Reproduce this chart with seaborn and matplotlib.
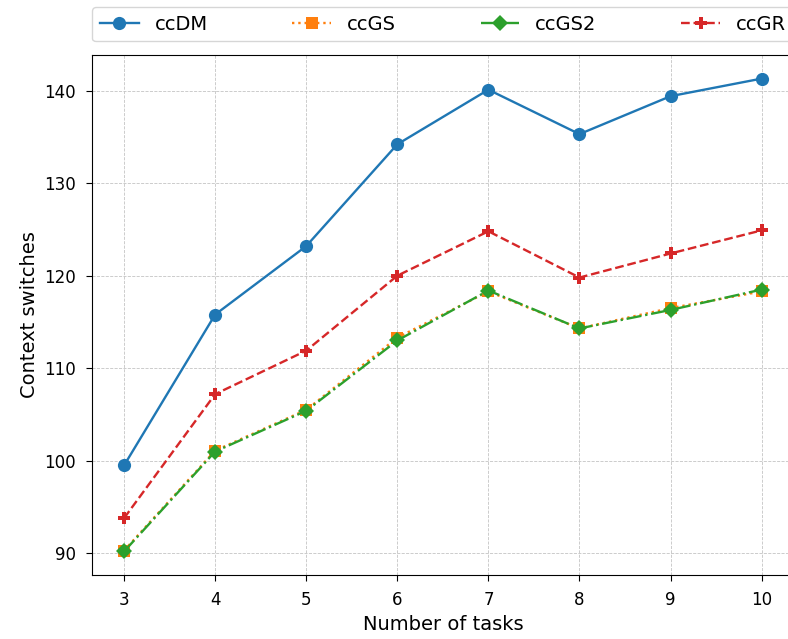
import numpy as np
import pandas as pd
import seaborn as sns
import matplotlib
matplotlib.use('Agg')
import matplotlib.pyplot as plt

tasks = [3, 4, 5, 6, 7, 8, 9, 10]
ccDM = [99.5, 115.8, 123.2, 134.2, 140.1, 135.3, 139.4, 141.3]
ccGS = [90.3, 101.1, 105.5, 113.3, 118.3, 114.3, 116.5, 118.3]
ccGS2 = [90.2, 101.0, 105.4, 113.0, 118.4, 114.3, 116.3, 118.5]
ccGR = [93.8, 107.2, 111.9, 120.0, 124.8, 119.8, 122.4, 124.9]

series = [('ccDM', ccDM, 'tab:blue', '-', 'o', 9.5),
          ('ccGS', ccGS, 'tab:orange', ':', 's', 8.5),
          ('ccGS2', ccGS2, 'tab:green', '-.', 'D', 8.5),
          ('ccGR', ccGR, 'tab:red', '--', 'P', 9)]

f, ax = plt.subplots(figsize=(7.88, 6.39), dpi=100)
# axes runs slightly past the right edge of the figure, as in the reference
ax.set_position([0.117, 0.100, 0.890, 0.814])

for name, vals, col, ls, mk, ms in series:
    df = pd.DataFrame({'tasks': tasks, 'val': vals})
    sns.lineplot(data=df, x='tasks', y='val', ax=ax, color=col, linestyle=ls,
                 marker=mk, markersize=ms, markeredgewidth=0, linewidth=1.7, label=name)

ax.grid(True, linestyle='--', linewidth=0.6, color='#c4c4c4')
ax.set_xticks(tasks)
ax.set_yticks([90, 100, 110, 120, 130, 140])
ax.tick_params(labelsize=12, length=4.5, pad=7)
ax.set_xlabel('Number of tasks', fontsize=14)
ax.set_ylabel('Context switches', fontsize=14)
ax.legend(loc='lower left', bbox_to_anchor=(0, 1.026, 1, 0.1), ncol=4, mode='expand',
          borderaxespad=0, fontsize=14)
f.savefig('out.png')
